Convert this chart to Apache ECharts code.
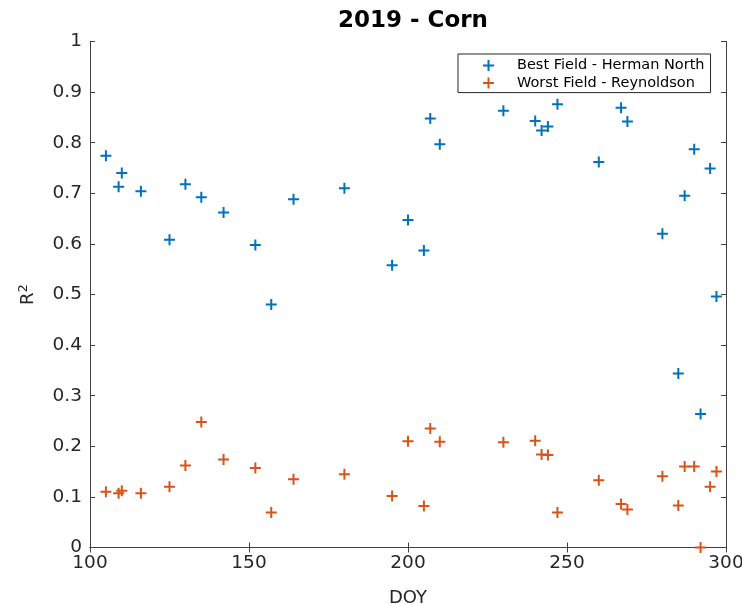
<!DOCTYPE html>
<html>
<head>
<meta charset="utf-8">
<script src="https://cdn.jsdelivr.net/npm/echarts@6/dist/echarts.min.js"></script>
<style>
html, body { margin: 0; padding: 0; background: #fff; }
#main { width: 742px; height: 604px; }
</style>
</head>
<body>
<div id="main"></div>
<script>
// day of year, same dates for both fields
var doy = [105, 109, 110, 116, 125, 130, 135, 142, 152, 157, 164, 180, 195, 200, 205, 207,
           210, 230, 240, 242, 244, 247, 260, 267, 269, 280, 285, 287, 290, 292, 295, 297];
var bestR2 = [0.774, 0.713, 0.740, 0.704, 0.608, 0.718, 0.692, 0.662, 0.598, 0.480, 0.688, 0.710, 0.558, 0.647, 0.587, 0.848,
              0.797, 0.863, 0.843, 0.824, 0.832, 0.876, 0.762, 0.869, 0.842, 0.620, 0.344, 0.695, 0.787, 0.264, 0.749, 0.496];
var worstR2 = [0.110, 0.107, 0.112, 0.107, 0.120, 0.162, 0.248, 0.174, 0.157, 0.069, 0.135, 0.145, 0.102, 0.210, 0.082, 0.235,
               0.209, 0.208, 0.211, 0.184, 0.183, 0.069, 0.133, 0.086, 0.075, 0.141, 0.083, 0.160, 0.160, 0.000, 0.120, 0.150];
var seriesNames = ['Best Field - Herman North', 'Worst Field - Reynoldson'];

var plus = 'path://M4.5,0h2v4.5h4.5v2h-4.5v4.5h-2v-4.5h-4.5v-2h4.5z';
var axisColor = '#404040';
var font = 'DejaVu Sans';

function pairs(xs, ys) {
    return xs.map(function (x, i) { return [x, ys[i]]; });
}

// frame axes (top/right) only carry the box and inward ticks
function frameAxis(pos, min, max, interval) {
    return {
        type: 'value', position: pos, min: min, max: max, interval: interval,
        axisLine: { show: true, lineStyle: { color: axisColor, width: 1 } },
        axisTick: { show: true, inside: true, length: 5, lineStyle: { color: axisColor } },
        axisLabel: { show: false },
        splitLine: { show: false }
    };
}

var chart = echarts.init(document.getElementById('main'));
chart.setOption({
    backgroundColor: '#fff',
    animation: false,
    title: {
        text: '2019 - Corn',
        left: 408, top: 5, textAlign: 'center',
        textStyle: { fontFamily: font, fontWeight: 'bold', fontSize: 23, color: '#000' }
    },
    legend: {
        orient: 'vertical',
        left: 458, top: 54,
        padding: [3, 6, 1, 25],
        itemWidth: 11, itemHeight: 11, itemGap: 0.6,
        borderColor: '#262626', borderWidth: 1, backgroundColor: '#fff',
        textStyle: { fontFamily: font, fontSize: 14.5, color: '#000', lineHeight: 17, padding: [0, 0, 0, 18] },
        data: seriesNames
    },
    grid: { left: 90, right: 16, top: 41.5, bottom: 56.5, outerBoundsMode: 'none' },
    xAxis: [{
        type: 'value', min: 100, max: 300, interval: 50,
        name: 'DOY', nameLocation: 'middle', nameGap: 42,
        nameTextStyle: { fontFamily: font, fontSize: 18, color: '#262626' },
        axisLine: { show: true, onZero: false, lineStyle: { color: axisColor, width: 1 } },
        axisTick: { show: true, inside: true, length: 5, lineStyle: { color: axisColor } },
        axisLabel: { fontFamily: font, fontSize: 18.5, color: '#262626', margin: 6 },
        splitLine: { show: false }
    }, frameAxis('top', 100, 300, 50)],
    yAxis: [{
        type: 'value', min: 0, max: 1, interval: 0.1,
        name: '{r|R}{s|2}', nameLocation: 'middle', nameGap: 50, nameRotate: 90,
        nameTextStyle: {
            fontFamily: font, fontSize: 18, color: '#262626',
            rich: {
                r: { fontFamily: font, fontSize: 18, color: '#262626' },
                s: { fontFamily: font, fontSize: 13, color: '#262626', padding: [0, 0, 10, 0] }
            }
        },
        axisLine: { show: true, onZero: false, lineStyle: { color: axisColor, width: 1 } },
        axisTick: { show: true, inside: true, length: 5, lineStyle: { color: axisColor } },
        axisLabel: { fontFamily: font, fontSize: 18.5, color: '#262626', margin: 8 },
        splitLine: { show: false }
    }, frameAxis('right', 0, 1, 0.1)],
    series: [{
        name: seriesNames[0], type: 'scatter', clip: false,
        symbol: plus, symbolSize: 11,
        itemStyle: { color: '#0072BD', opacity: 1 },
        data: pairs(doy, bestR2)
    }, {
        name: seriesNames[1], type: 'scatter', clip: false,
        symbol: plus, symbolSize: 11,
        itemStyle: { color: '#D95319', opacity: 1 },
        data: pairs(doy, worstR2)
    }]
});
</script>
</body>
</html>
